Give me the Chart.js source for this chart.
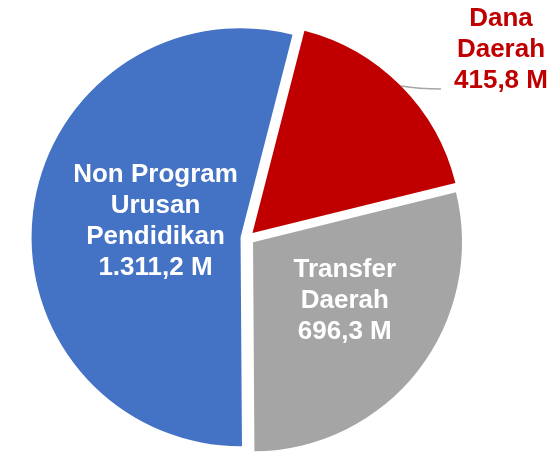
<!DOCTYPE html>
<html>
<head>
<meta charset="utf-8">
<script src="https://cdn.jsdelivr.net/npm/chart.js@4/dist/chart.umd.min.js"></script>
<style>
  body { margin: 0; background: #fff; }
  #wrap { width: 554px; height: 453px; }
</style>
</head>
<body>
<div id="wrap"><canvas id="pieChart" width="554" height="453"></canvas></div>
<script>
// data (miliar rupiah)
const labelLines = [["Dana", "Daerah"], ["Transfer", "Daerah"], ["Non Program", "Urusan", "Pendidikan"]];
const values = [415.8, 696.3, 1311.2];
const colors = ["#C00000", "#A5A5A5", "#4472C4"];
const textColors = ["#C00000", "#FFFFFF", "#FFFFFF"];

const explodeGap = 7;

// 1311.2 -> "1.311,2 M"
function fmt(v) {
  const parts = v.toFixed(1).split(".");
  const whole = parts[0].replace(/\B(?=(\d{3})+(?!\d))/g, ".");
  return whole + "," + parts[1] + " M";
}

// where each label goes, relative to its slice
const labelPlace = [
  { outside: true },
  { k: 0.52, dx: 6, dy: -8 },
  { k: 0.41, dx: 0, dy: -5 },
];

const explode = {
  id: "explode",
  afterUpdate(chart) {
    chart.getDatasetMeta(0).data.forEach((arc) => {
      const mid = (arc.startAngle + arc.endAngle) / 2;
      arc.x += Math.cos(mid) * explodeGap;
      arc.y += Math.sin(mid) * explodeGap;
    });
  },
};

const sliceLabels = {
  id: "sliceLabels",
  afterDraw(chart) {
    const ctx = chart.ctx;
    const lh = 31;
    ctx.save();
    ctx.font = "bold 26px 'Liberation Sans', Arial, sans-serif";
    ctx.textAlign = "center";
    ctx.textBaseline = "middle";
    chart.getDatasetMeta(0).data.forEach((arc, i) => {
      const mid = (arc.startAngle + arc.endAngle) / 2;
      const r = arc.outerRadius;
      const lines = labelLines[i].concat([fmt(values[i])]);
      const p = labelPlace[i];
      ctx.fillStyle = textColors[i];
      if (p.outside) {
        const sx = arc.x + Math.cos(mid) * r;
        const sy = arc.y + Math.sin(mid) * r;
        const ex = sx + 40, ey = sy + 3;
        ctx.strokeStyle = "#A6A6A6";
        ctx.lineWidth = 1.5;
        ctx.beginPath();
        ctx.moveTo(sx, sy);
        ctx.quadraticCurveTo(sx + 18, ey, ex, ey);
        ctx.stroke();
        const tx = ex + 60;
        const lastY = ey - 8;
        lines.forEach((t, j) => {
          ctx.fillText(t, tx, lastY - (lines.length - 1 - j) * lh);
        });
      } else {
        const cx = arc.x + Math.cos(mid) * r * p.k + p.dx;
        const cy = arc.y + Math.sin(mid) * r * p.k + p.dy;
        const top = cy - ((lines.length - 1) * lh) / 2;
        lines.forEach((t, j) => {
          ctx.fillText(t, cx, top + j * lh);
        });
      }
    });
    ctx.restore();
  },
};

new Chart(document.getElementById("pieChart"), {
  type: "pie",
  data: {
    labels: labelLines.map((l) => l.join(" ")),
    datasets: [
      {
        data: values,
        backgroundColor: colors,
        borderWidth: 0,
        hoverOffset: 0,
      },
    ],
  },
  options: {
    responsive: false,
    animation: false,
    events: [],
    rotation: 14.4,
    radius: 209,
    layout: { padding: { left: 0, right: 59, top: 23, bottom: 0 } },
    plugins: {
      legend: { display: false },
      tooltip: { enabled: false },
    },
  },
  plugins: [explode, sliceLabels],
});
</script>
</body>
</html>
